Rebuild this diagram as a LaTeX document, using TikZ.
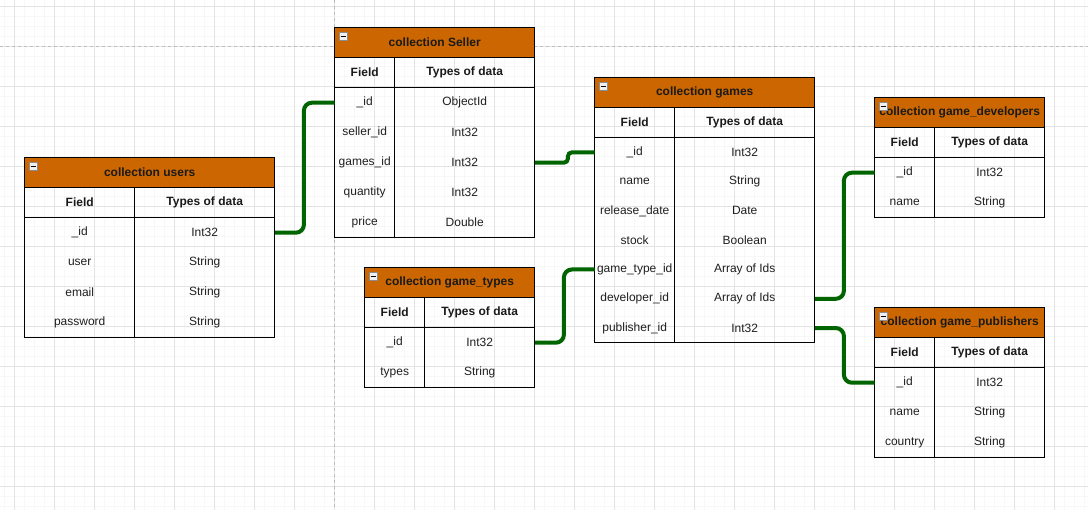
\documentclass[tikz,border=0pt]{standalone}
\usepackage{fontspec}
\setmainfont{Liberation Sans}
\definecolor{hdrorange}{RGB}{204,102,0}
\definecolor{conngreen}{RGB}{0,100,0}
\definecolor{gridminor}{RGB}{247,247,247}
\definecolor{gridmajor}{RGB}{228,228,228}
\definecolor{pagebreak}{RGB}{190,190,190}
\definecolor{titletext}{RGB}{26,26,26}
\tikzset{
  hdr/.style={fill=hdrorange, minimum height=30pt, inner sep=0pt, anchor=north west, font=\bfseries\fontsize{12}{14}\selectfont, text=titletext},
  colhdr/.style={minimum height=30pt, inner sep=0pt, anchor=north west, font=\bfseries\fontsize{12}{14}\selectfont, text=black!90},
  cell/.style={inner sep=0pt, anchor=north west, font=\fontsize{12}{14}\selectfont, text=black!88},
  tline/.style={draw=black, line width=1pt},
  conn/.style={draw=conngreen, line width=4pt, rounded corners=8pt},
  minusbox/.style={draw=black!45, fill=black!6, line width=0.6pt},
  gminor/.style={draw=gridminor, line width=1pt},
  gmajor/.style={draw=gridmajor, line width=1pt},
  pbreak/.style={draw=pagebreak, line width=1pt, dash pattern=on 3pt off 3pt},
}
% #1 name, #2 x, #3 y, #4 field col width, #5 total width, #6 total height, #7 row height, #8 title, #9 rows
\newcommand{\erdtable}[9]{%
  \begin{scope}[shift={(#2,#3)}]
    \pgfmathsetmacro{\wt}{#5-#4}
    \node[hdr, minimum width=#5pt] (#1) at (0,0) {#8};
    \node[colhdr, minimum width=#4pt] (#1fh) at (0,30) {Field};
    \node[colhdr, minimum width=\wt pt] (#1th) at (#4,30) {Types of data};
    \foreach \fname/\tname [count=\i] in {#9} {
      \node[cell, minimum width=#4pt, minimum height=#7pt] (#1f\i) at (0,{60+(\i-1)*#7}) {\fname};
      \node[cell, minimum width=\wt pt, minimum height=#7pt] (#1t\i) at (#4,{60+(\i-1)*#7}) {\tname};
    }
    \draw[tline] (0,0) rectangle (#5,#6);
    \draw[tline] (0,30) -- (#5,30);
    \draw[tline] (0,60) -- (#5,60);
    \draw[tline] (#4,30) -- (#4,#6);
    \draw[minusbox] (4.5,5) rectangle (12.5,13);
    \draw[black, line width=1pt] (6,9) -- (11,9);
  \end{scope}
}
\begin{document}
\begin{tikzpicture}[x=1pt,y=-1pt]
  \useasboundingbox (0,0) rectangle (1088,510);
  \fill[white] (0,0) rectangle (1088,510);
  % grid
  \foreach \x in {4,14,...,1084} \draw[gminor] (\x,0) -- (\x,510);
  \foreach \y in {7,17,...,507} \draw[gminor] (0,\y) -- (1088,\y);
  \foreach \x in {14,54,...,1054} \draw[gmajor] (\x,0) -- (\x,510);
  \foreach \y in {7,47,...,487} \draw[gmajor] (0,\y) -- (1088,\y);
  \draw[pbreak] (0,47) -- (1088,47);
  \draw[pbreak] (334.5,0) -- (334.5,510);
  % tables
  \erdtable{users}{24.5}{157.5}{110}{250}{180}{30}{collection users}
    {\_id/Int32, user/String, email/String, password/String}
  \erdtable{seller}{334.5}{27.5}{60}{200}{210}{30}{collection Seller}
    {\_id/ObjectId, seller\_id/Int32, games\_id/Int32, quantity/Int32, price/Double}
  \erdtable{games}{594.5}{77.5}{80}{220}{265}{29.2857}{collection games}
    {\_id/Int32, name/String, release\_date/Date, stock/Boolean, game\_type\_id/Array of Ids, developer\_id/Array of Ids, publisher\_id/Int32}
  \erdtable{types}{364.5}{267.5}{60}{170}{120}{30}{collection game\_types}
    {\_id/Int32, types/String}
  \erdtable{dev}{874.5}{97.5}{60}{170}{120}{30}{collection game\_developers}
    {\_id/Int32, name/String}
  \erdtable{pub}{874.5}{307.5}{60}{170}{150}{30}{collection game\_publishers}
    {\_id/Int32, name/String, country/String}
  % connectors
  \draw[conn] (userst1.east) -- ++(29,0) |- (sellerf1.west);
  \draw[conn, rounded corners=4pt] (sellert3.east) -- ++(33,0) |- (gamesf1.west);
  \draw[conn] (typest1.east) -- ++(29,0) |- (gamesf5.west);
  \draw[conn] (gamest6.east) -- ++(29,0) |- (devf1.west);
  \draw[conn] (gamest7.east) -- ++(29,0) |- (pubf1.west);
\end{tikzpicture}
\end{document}
